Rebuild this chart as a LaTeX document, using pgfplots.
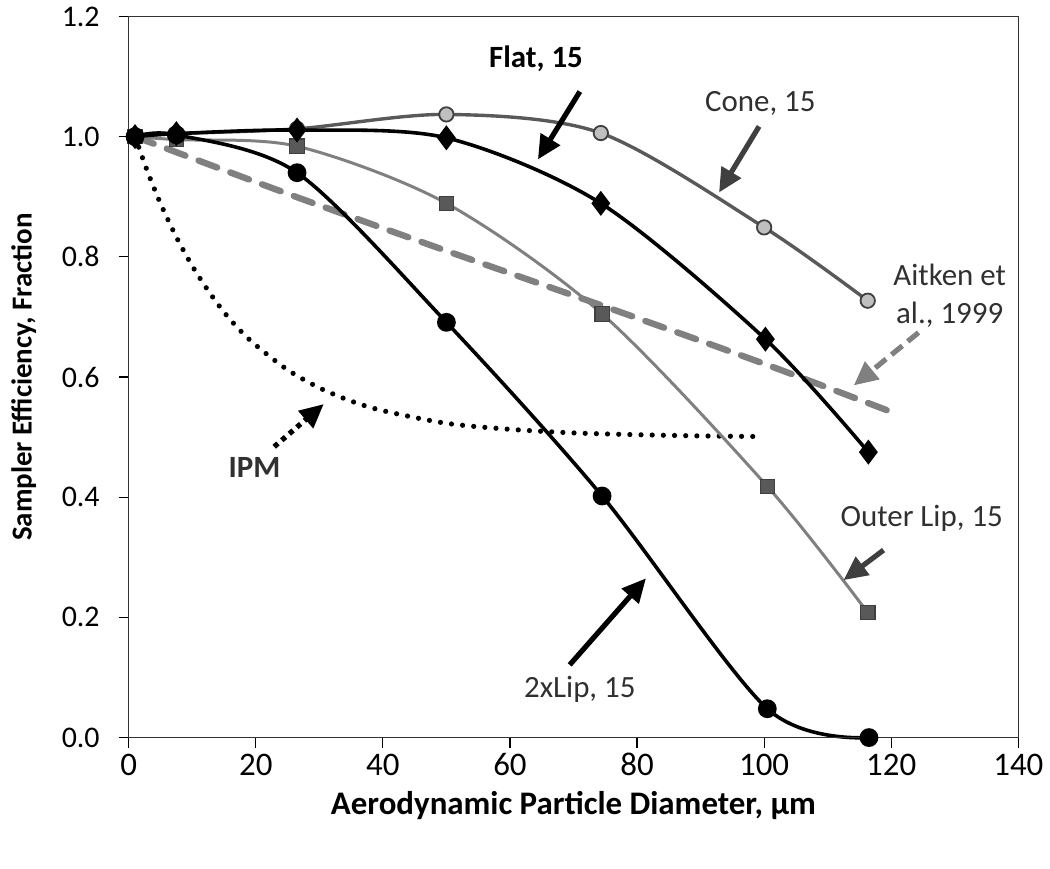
\documentclass[border=0pt]{standalone}
\usepackage{pgfplots}
\pgfplotsset{compat=1.18}
\usepackage{fontspec}
\setmainfont{Carlito}
\usetikzlibrary{arrows.meta}
\definecolor{dgray}{HTML}{595959}
\definecolor{mgray}{HTML}{808080}
\definecolor{lgray}{HTML}{BFBFBF}
\definecolor{edgegray}{HTML}{3F3F3F}
\definecolor{txtgray}{HTML}{303030}
\begin{document}
\begin{tikzpicture}
\begin{axis}[
  scale only axis, width=446pt, height=361.5pt,
  axis lines=box,
  xmin=0, xmax=140, ymin=0, ymax=1.2,
  xtick={0,20,40,60,80,100,120,140},
  ytick={0,0.2,0.4,0.6,0.8,1.0,1.2},
  yticklabel style={font=\fontsize{15}{16}\selectfont, xshift=-6pt, /pgf/number format/fixed, /pgf/number format/fixed zerofill, /pgf/number format/precision=1},
  /pgf/number format/assume math mode=true,
  tick align=outside, major tick length=5pt,
  xtick pos=bottom, ytick pos=left,
  tick style={black, line width=0.6pt},
  axis line style={black!80, line width=0.8pt},
  xticklabel style={font=\fontsize{16.5}{18}\selectfont, text height=11.5pt, text depth=0pt, yshift=1pt},
  xlabel={\textbf{Aerodynamic Particle Diameter, μm}},
  ylabel={\textbf{Sampler Efficiency, Fraction}},
  xlabel style={font=\fontsize{16.5}{19}\selectfont, yshift=-1pt},
  ylabel style={font=\fontsize{14.5}{17}\selectfont, yshift=6pt},
  clip=false,
]
% Aitken et al., 1999
\addplot[mgray, line width=3.2pt, dash pattern=on 10pt off 7pt, line cap=round, smooth]
  coordinates {(1,1.0) (25,0.905) (50,0.81) (75,0.717) (100,0.622) (120,0.542)};
% IPM
\addplot[black, line width=2.6pt, dash pattern=on 0pt off 5.6pt, line cap=round, smooth]
  coordinates {(1,1.0) (3,0.941) (5,0.889) (7.5,0.833) (10,0.785) (12.5,0.744) (15,0.708)
   (17.5,0.678) (20,0.653) (25,0.612) (30,0.582) (35,0.560) (40,0.544) (50,0.523)
   (60,0.513) (70,0.507) (80,0.504) (90,0.502) (99,0.501)};
% Outer Lip, 15
\addplot[mgray, line width=1.5pt, smooth, mark=square*,
  mark options={fill=dgray, draw=edgegray, line width=0.6pt, mark size=3.6pt}]
  coordinates {(1,1.0) (7.5,0.995) (26.5,0.984) (50,0.889) (74.5,0.705) (100.5,0.418) (116.3,0.208)};
% Cone, 15
\addplot[dgray, line width=1.7pt, smooth, mark=*,
  mark options={fill=lgray, draw=edgegray, line width=0.9pt, mark size=3.6pt}]
  coordinates {(1,1.0) (7.5,1.005) (26.5,1.013) (50,1.037) (74.3,1.006) (100,0.849) (116.3,0.727)};
% 2xLip, 15
\addplot[black, line width=1.8pt, smooth, mark=*,
  mark options={fill=black, draw=black, mark size=3.8pt}]
  coordinates {(1,1.0) (7.5,1.003) (26.5,0.940) (50,0.691) (74.5,0.402) (100.5,0.048) (116.5,0.0)};
% Flat, 15
\addplot[black, line width=1.8pt, smooth, mark=diamond*,
  mark options={fill=black, draw=black, mark size=4.8pt}]
  coordinates {(1,1.0) (7.5,1.005) (26.5,1.011) (50,0.998) (74.3,0.889) (100.2,0.663) (116.4,0.475)};

% annotations
\node[font=\fontsize{15.5}{17}\selectfont\bfseries] at (axis cs:64.1,1.13) {Flat, 15};
\draw[black, line width=2.6pt, -{Triangle[length=12pt,width=11pt]}] (axis cs:71,1.075) -- (axis cs:64.4,0.962);
\node[font=\fontsize{15.5}{17}\selectfont, text=txtgray] at (axis cs:99.4,1.056) {Cone, 15};
\draw[edgegray, line width=2.6pt, -{Triangle[length=12pt,width=11pt]}] (axis cs:99.2,1.017) -- (axis cs:92.9,0.907);
\node[font=\fontsize{15.5}{19}\selectfont, text=txtgray, align=center] at (axis cs:129.2,0.736) {Aitken et\\al., 1999};
\draw[mgray, line width=2.6pt, dash pattern=on 7pt off 3.5pt, -{Triangle[length=12pt,width=11pt]}] (axis cs:124.3,0.674) -- (axis cs:114.1,0.586);
\node[font=\fontsize{15.5}{17}\selectfont\bfseries, text=txtgray] at (axis cs:19.8,0.45) {IPM};
\draw[black, line width=2.6pt, dash pattern=on 2.5pt off 2.5pt, -{Triangle[length=12pt,width=11pt]}] (axis cs:22.9,0.484) -- (axis cs:30.7,0.555);
\node[font=\fontsize{15.5}{17}\selectfont, text=txtgray] at (axis cs:124.8,0.365) {Outer Lip, 15};
\draw[edgegray, line width=2.6pt, -{Triangle[length=12pt,width=11pt]}] (axis cs:118.8,0.312) -- (axis cs:112.5,0.262);
\node[font=\fontsize{15.5}{17}\selectfont, text=txtgray] at (axis cs:71,0.08) {2xLip, 15};
\draw[black, line width=2.6pt, -{Triangle[length=12pt,width=11pt]}] (axis cs:69.4,0.121) -- (axis cs:81.4,0.265);
\draw[black!80, line width=0.8pt] (rel axis cs:0,0) rectangle (rel axis cs:1,1);
\path (rel axis cs:0,0) ++(-64.5pt,-65.5pt) rectangle ++(525pt,434.5pt);
\end{axis}
\end{tikzpicture}
\end{document}
